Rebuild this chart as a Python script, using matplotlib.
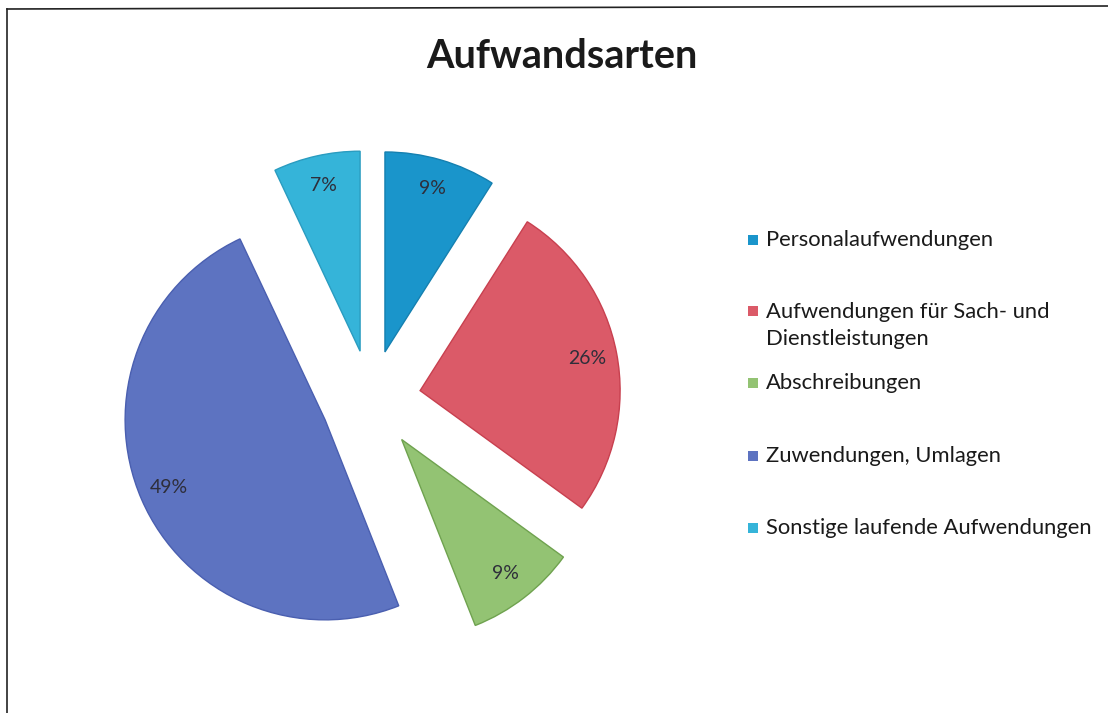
import matplotlib.pyplot as plt
from matplotlib.patches import Rectangle

plt.rcParams['font.family'] = ['Lato', 'DejaVu Sans']

labels = ['Personalaufwendungen', 'Aufwendungen für Sach- und\nDienstleistungen',
          'Abschreibungen', 'Zuwendungen, Umlagen', 'Sonstige laufende Aufwendungen']
shares = [9, 26, 9, 49, 7]
colors = ['#1a95cb', '#db5a68', '#93c373', '#5d73c1', '#35b4d9']
edges = ['#1580b0', '#c8404f', '#6fa24f', '#4a5fb0', '#2a9cc0']

W, H = 1108, 713
fig = plt.figure(figsize=(W / 100, H / 100), dpi=100)

# pie axes: center at (371, 400) px, radius 200 px
cx, cy, half = 371, 400, 300
ax = fig.add_axes([(cx - half) / W, (H - cy - half) / H, 2 * half / W, 2 * half / H])
wedges, texts, autotexts = ax.pie(
    shares, colors=colors, startangle=90, counterclock=False,
    explode=[0.25] * len(shares), autopct='%d%%', pctdistance=0.85,
    textprops={'fontsize': 14, 'color': '#2e2e3a'},
    wedgeprops={'linewidth': 1.0})
for w, e in zip(wedges, edges):
    w.set_edgecolor(e)
ax.set_xlim(-1.5, 1.5)
ax.set_ylim(-1.5, 1.5)
ax.set_aspect('auto')
ax.axis('off')

fig.text(562 / W, 1 - 56 / H, 'Aufwandsarten', ha='center', va='center',
         fontsize=28.5, fontweight='bold', color='#1a1a1a')

# legend (Excel-style uneven spacing); y = centre of first text line in px
leg_y = [240, 311, 383, 456, 528]
for lab, col, y in zip(labels, colors, leg_y):
    fig.patches.append(Rectangle((748 / W, 1 - (y + 5) / H), 10 / W, 10 / H,
                                 transform=fig.transFigure, facecolor=col,
                                 edgecolor='none'))
    nlines = lab.count('\n') + 1
    fig.text(766 / W, 1 - (y + 14.5 * (nlines - 1)) / H, lab, ha='left', va='center',
             fontsize=15.8, color='#1a1a1a', linespacing=1.45)

# chart frame (top and left edges visible in the scan)
fig.add_artist(plt.Line2D([7 / W, 1], [1 - 9 / H, 1 - 6 / H], transform=fig.transFigure,
                          color='#222222', linewidth=1.2))
fig.add_artist(plt.Line2D([7 / W, 7 / W], [1 - 9 / H, 0], transform=fig.transFigure,
                          color='#222222', linewidth=1.2))

fig.savefig('out.png', dpi=100, facecolor='white')
